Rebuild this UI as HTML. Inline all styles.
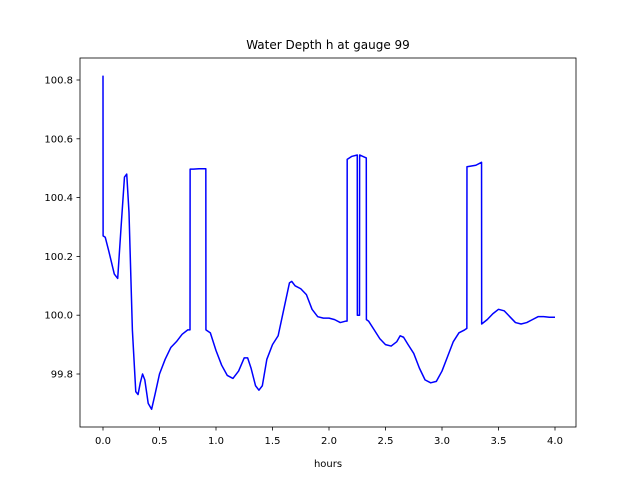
<!DOCTYPE html>
<html><head><meta charset="utf-8"><style>
body{margin:0;background:#fff;font-family:"Liberation Sans","DejaVu Sans",sans-serif}
svg text{font-family:"DejaVu Sans","Liberation Sans",sans-serif;font-size:10px;fill:#000}
</style></head><body>
<svg id="chart" width="640" height="480" xmlns="http://www.w3.org/2000/svg">
<rect width="640" height="480" fill="#fff"/>
<text x="328" y="49" text-anchor="middle" style="font-size:12px">Water Depth h at gauge 99</text>
<text x="328" y="467" text-anchor="middle">hours</text>
<g id="xt"></g><g id="yt"></g>
<path id="line" fill="none" stroke="#0000ff" stroke-width="1.5" stroke-linejoin="round"/>
<rect x="80" y="58" width="496" height="369" fill="none" stroke="#000" stroke-width="0.8"/>
</svg>
<script>
const times=[0,0.001,0.02,0.05,0.1,0.13,0.16,0.19,0.21,0.23,0.26,0.29,0.31,0.33,0.35,0.37,0.40,0.43,0.46,0.5,0.55,0.6,0.65,0.7,0.75,0.77,0.771,0.8,0.85,0.91,0.911,0.95,1.0,1.05,1.1,1.15,1.2,1.25,1.28,1.31,1.35,1.38,1.41,1.45,1.5,1.55,1.6,1.65,1.67,1.7,1.75,1.8,1.85,1.9,1.95,2.0,2.05,2.1,2.15,2.16,2.161,2.2,2.25,2.251,2.27,2.271,2.3,2.33,2.331,2.35,2.4,2.45,2.5,2.55,2.6,2.63,2.66,2.7,2.75,2.8,2.85,2.9,2.95,3.0,3.05,3.1,3.15,3.2,3.22,3.221,3.3,3.35,3.351,3.4,3.45,3.5,3.55,3.6,3.65,3.7,3.75,3.8,3.85,3.9,3.95,4.0];
const depths=[100.815,100.27,100.265,100.22,100.14,100.125,100.3,100.47,100.48,100.35,99.95,99.74,99.73,99.77,99.80,99.78,99.70,99.68,99.73,99.80,99.85,99.89,99.91,99.935,99.95,99.95,100.497,100.497,100.498,100.498,99.95,99.94,99.88,99.83,99.795,99.785,99.81,99.855,99.855,99.82,99.76,99.745,99.76,99.85,99.9,99.93,100.02,100.11,100.115,100.1,100.09,100.07,100.02,99.995,99.99,99.99,99.985,99.975,99.98,99.98,100.53,100.54,100.545,100.0,100.0,100.545,100.54,100.535,99.985,99.98,99.95,99.92,99.9,99.895,99.91,99.93,99.925,99.9,99.87,99.82,99.78,99.77,99.775,99.81,99.86,99.91,99.94,99.95,99.955,100.505,100.51,100.52,99.97,99.985,100.005,100.02,100.015,99.995,99.975,99.97,99.975,99.985,99.995,99.995,99.993,99.993];
const xTicks=[0,0.5,1,1.5,2,2.5,3,3.5,4];
const xTickLabels=["0.0","0.5","1.0","1.5","2.0","2.5","3.0","3.5","4.0"];
const yTicks=[99.8,100.0,100.2,100.4,100.6,100.8];
const yTickLabels=["99.8","100.0","100.2","100.4","100.6","100.8"];
const X=t=>103+t*113, Y=v=>374-(v-99.8)*294;
const NS="http://www.w3.org/2000/svg";
let d="";times.forEach((t,i)=>{d+=(i?"L":"M")+X(t).toFixed(2)+","+Y(depths[i]).toFixed(2);});
document.getElementById("line").setAttribute("d",d);
const xt=document.getElementById("xt"),yt=document.getElementById("yt");
xTicks.forEach((t,i)=>{
 const l=document.createElementNS(NS,"line");
 
 
 l.setAttribute("x1",X(t));l.setAttribute("x2",X(t));l.setAttribute("y1",427);l.setAttribute("y2",430.5);l.setAttribute("stroke","#000");l.setAttribute("stroke-width","0.8");xt.appendChild(l);
 const tx=document.createElementNS(NS,"text");
 
 
 tx.setAttribute("x",X(t));tx.setAttribute("y",444);tx.setAttribute("text-anchor","middle");tx.textContent=xTickLabels[i];xt.appendChild(tx);
});
yTicks.forEach((v,i)=>{
 const l=document.createElementNS(NS,"line");
 
 
 l.setAttribute("x1",76.5);l.setAttribute("x2",80);l.setAttribute("y1",Y(v));l.setAttribute("y2",Y(v));l.setAttribute("stroke","#000");l.setAttribute("stroke-width","0.8");yt.appendChild(l);
 const tx=document.createElementNS(NS,"text");
 
 
 tx.setAttribute("x",73);tx.setAttribute("y",Y(v)+3.5);tx.setAttribute("text-anchor","end");tx.textContent=yTickLabels[i];yt.appendChild(tx);
});
</script>
</body></html>
